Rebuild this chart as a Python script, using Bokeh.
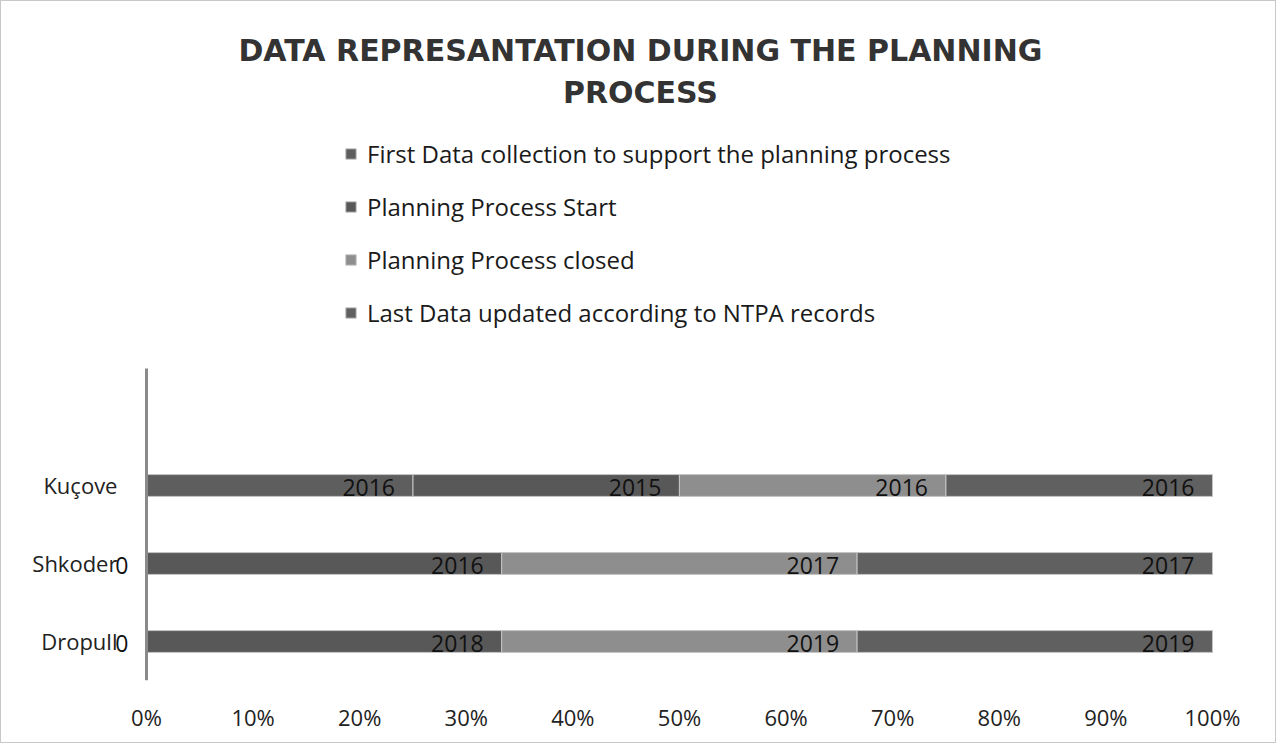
from bokeh.plotting import figure
from bokeh.models import ColumnDataSource, Range1d, Legend, LegendItem, Label
from bokeh.core.properties import value
from bokeh.embed import file_html
from bokeh.resources import INLINE

# ---- data ----
categories = ["Dropull", "Shkoder", "Kuçove"]
series_names = [
    "First Data collection to support the planning process",
    "Planning Process Start",
    "Planning Process closed",
    "Last Data updated according to NTPA records",
]
first_data = [0, 0, 2016]
plan_start = [2018, 2016, 2015]
plan_closed = [2019, 2017, 2016]
last_data = [2019, 2017, 2016]
x_ticks = [0.0, 0.1, 0.2, 0.3, 0.4, 0.5, 0.6, 0.7, 0.8, 0.9, 1.0]
x_tick_labels = ["0%", "10%", "20%", "30%", "40%", "50%", "60%", "70%", "80%", "90%", "100%"]
title_lines = ["DATA REPRESANTATION DURING THE PLANNING", "PROCESS"]

colors = ["#5e5e5e", "#585858", "#8e8e8e", "#606060"]
FONT = "Open Sans"

series = [first_data, plan_start, plan_closed, last_data]
keys = ["s0", "s1", "s2", "s3"]
ypos = [i + 0.5 for i in range(len(categories))]
totals = [sum(s[i] for s in series) for i in range(len(categories))]
data = {"y": ypos}
for k, s in zip(keys, series):
    data[k] = [v / t for v, t in zip(s, totals)]
src = ColumnDataSource(data)

# layout: 1066 px per x unit, 78 px per category
p = figure(width=1276, height=743, x_range=Range1d(-0.136, 1.061), y_range=Range1d(0, 8.705),
           output_backend="svg", toolbar_location=None,
           min_border_left=0, min_border_right=0, min_border_top=0, min_border_bottom=64)
p.styles = {"border": "1px solid #c8c8c8"}
p.outline_line_color = None
p.xgrid.grid_line_color = None
p.ygrid.grid_line_color = None
p.background_fill_color = "white"
p.border_fill_color = "white"

renderers = p.hbar_stack(keys, y="y", height=0.28, color=colors, source=src,
                         line_color="#c4c4c4", line_width=1)

# data labels at inside end
cum = [0.0] * len(categories)
for k, s in zip(keys, series):
    cum = [c + d for c, d in zip(cum, data[k])]
    p.text(x=list(cum), y=ypos, text=[str(v) for v in s], text_align="right",
           text_baseline="middle", x_offset=-18, y_offset=2,
           text_font=value(FONT), text_font_size="23px", text_color="#111111")

# axes
p.xaxis.ticker = x_ticks
p.xaxis.major_label_overrides = {t: l for t, l in zip(x_ticks, x_tick_labels)}
p.xaxis.axis_line_color = None
p.xaxis.major_tick_line_color = None
p.xaxis.minor_tick_line_color = None
p.xaxis.major_label_standoff = 15
p.xaxis.major_label_text_font = FONT
p.xaxis.major_label_text_font_size = "22px"
p.xaxis.major_label_text_color = "#222222"

p.yaxis.fixed_location = 0
p.yaxis.bounds = (0, len(categories) + 1)
p.yaxis.ticker = ypos
p.yaxis.major_label_overrides = {y: c for y, c in zip(ypos, categories)}
p.yaxis.axis_line_color = "#8a8a8a"
p.yaxis.axis_line_width = 3
p.yaxis.major_tick_line_color = None
p.yaxis.minor_tick_line_color = None
p.yaxis.major_label_standoff = 23
p.yaxis.major_label_text_font = FONT
p.yaxis.major_label_text_font_size = "22px"
p.yaxis.major_label_text_color = "#222222"

# legend
items = [LegendItem(label=n, renderers=[r]) for n, r in zip(series_names, renderers)]
legend = Legend(items=items, location=(343, 351), orientation="vertical",
                glyph_width=13, glyph_height=13, label_standoff=10, spacing=20, label_height=32,
                padding=0, margin=0, border_line_color=None, background_fill_alpha=0,
                label_text_font=FONT, label_text_font_size="24px", label_text_color="#1a1a1a")
p.add_layout(legend, "center")

# title
for i, line in enumerate(title_lines):
    p.add_layout(Label(x=0.4634, y=(630 - 42 * i) / 78.0, text=line, text_align="center",
                       text_baseline="middle", text_font="DejaVu Sans", text_font_style="bold",
                       text_font_size="30px", text_color="#333333"))

open("out.html", "w").write(file_html(p, INLINE))
